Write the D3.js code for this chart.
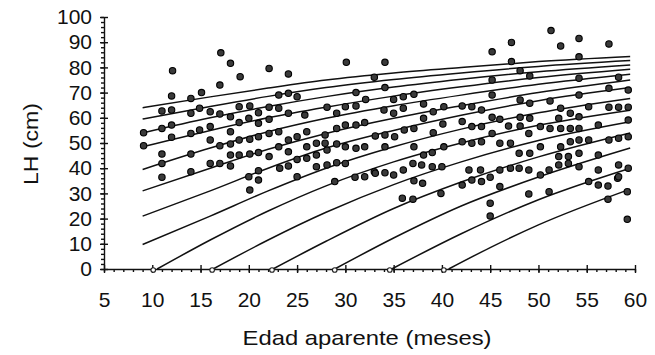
<!DOCTYPE html>
<html>
<head>
<meta charset="utf-8">
<script src="https://cdn.jsdelivr.net/npm/d3@7"></script>
<style>
  body { margin: 0; background: #fff; }
  svg text { font-family: 'Liberation Sans', Arial, sans-serif; fill: #111; }
</style>
</head>
<body>
<svg id="chart" width="655" height="355"></svg>
<script>
// axis ticks
const ageTicks = [5, 10, 15, 20, 25, 30, 35, 40, 45, 50, 55, 60];
const lhTicks = [0, 10, 20, 30, 40, 50, 60, 70, 80, 90, 100];

// growth curves, [age, LH], bottom to top
const curve1 = [[40.7, 0], [45, 8.5], [50, 17.5], [59.5, 31.7]];
const curve2 = [[34.8, 0], [42, 14], [50, 27.5], [59.5, 40]];
const curve3 = [[28.9, 0], [35, 12.3], [42, 25], [50, 36.5], [59.5, 48]];
const curve4 = [[22.5, 0], [28, 11], [35, 24], [42, 34.5], [50, 44.5], [59.5, 54]];
const curve5 = [[16.3, 0], [22, 11.5], [28, 22.5], [35, 33.5], [42, 42.5], [50, 51], [59.5, 58.4]];
const curve6 = [[10.5, 0], [16, 11.5], [22, 23], [28, 33], [35, 42.5], [42, 50], [50, 57], [59.5, 63]];
const curve7 = [[9, 9.7], [16, 21], [22, 31], [28, 40], [35, 48.5], [42, 55.5], [50, 62], [59.5, 67.7]];
const curve8 = [[9, 21], [16, 31], [22, 40], [28, 48], [35, 55], [42, 61], [50, 66.8], [59.5, 72]];
const curve9 = [[9, 31], [16, 40], [22, 47.5], [28, 53.8], [35, 59.8], [42, 64.8], [50, 70], [59.5, 75]];
const curve10 = [[9, 39.5], [16, 48], [22, 54.5], [28, 59.8], [35, 64.8], [42, 69], [50, 73.3], [59.5, 77.3]];
const curve11 = [[9, 48.5], [16, 55], [22, 60], [28, 64.2], [35, 68.6], [42, 72.3], [50, 76], [59.5, 79.3]];
const curve12 = [[9, 54], [16, 60], [22, 64.5], [28, 68.4], [35, 72.2], [42, 75.3], [50, 78.3], [59.5, 81]];
const curve13 = [[9, 59.5], [16, 64.5], [22, 68.5], [28, 72], [35, 75.2], [42, 77.8], [50, 80.4], [59.5, 82.7]];
const curve14 = [[9, 64], [16, 68.3], [22, 71.8], [28, 75], [35, 77.8], [42, 80], [50, 82.3], [59.5, 84.3]];
const curves = [curve1, curve2, curve3, curve4, curve5, curve6, curve7,
  curve8, curve9, curve10, curve11, curve12, curve13, curve14];

// observed animals, [age, LH]
const pointsYoung = [
  [12.1, 78.7], [17.1, 85.8], [18.1, 81.6], [19.1, 76.3], [17.0, 73.0], [22.1, 79.6], [24.1, 77.4],
  [12.0, 68.7], [14.0, 67.7], [15.1, 70.0], [23.1, 69.0], [24.1, 69.7], [25.0, 68.4],
  [11.0, 62.7], [12.0, 63.1], [14.0, 61.8], [14.9, 63.8], [16.0, 62.4], [17.0, 61.5], [18.1, 60.4],
  [19.0, 64.4], [20.1, 64.7], [21.0, 62.0], [22.1, 64.2], [23.1, 63.8],
  [9.1, 54.1], [11.0, 55.8], [12.0, 57.1], [14.0, 53.8], [14.9, 55.2], [16.0, 56.5], [18.1, 54.5],
  [19.0, 58.1], [20.0, 59.8], [21.0, 57.8], [22.1, 59.4], [24.1, 61.8], [25.8, 61.1],
  [9.1, 48.9], [12.0, 52.3], [16.0, 51.2], [17.0, 48.9], [18.1, 49.6], [19.0, 51.2], [20.1, 51.5],
  [21.0, 52.5], [22.1, 53.8], [23.1, 54.5], [24.1, 51.2], [25.0, 52.5], [26.0, 54.5], [28.1, 64.2],
  [11.0, 45.6], [14.0, 45.6], [16.0, 41.9], [17.0, 41.9], [18.1, 40.9], [18.1, 45.2], [19.0, 45.2],
  [20.1, 45.6], [21.0, 46.2], [22.1, 44.6], [23.1, 48.5], [24.1, 46.5], [24.1, 40.9], [25.0, 43.5],
  [26.0, 48.5], [26.0, 43.9], [27.0, 45.2], [27.0, 49.9], [28.1, 47.2],
  [11.0, 41.9], [14.0, 38.6], [20.0, 36.6], [21.0, 39.0], [23.2, 40.0], [25.0, 36.6], [27.0, 40.6],
  [28.1, 41.3], [11.0, 36.4], [21.0, 35.3], [20.1, 31.3]
];
const pointsOld = [
  [28.9, 34.7], [31.0, 36.4], [32.0, 36.6], [33.0, 38.6], [35.0, 37.3], [37.1, 35.0], [38.0, 34.0],
  [35.9, 28.1], [37.0, 27.7], [39.9, 30.0], [42.1, 33.3], [43.1, 35.3], [44.1, 34.7], [45.0, 36.4],
  [46.0, 32.7], [45.0, 26.1], [45.0, 21.0], [49.0, 29.8], [51.1, 30.7], [50.2, 37.3], [51.1, 39.3],
  [55.2, 34.7], [56.2, 33.3], [57.2, 32.9], [58.2, 36.0], [57.2, 27.7], [59.2, 30.7], [59.2, 19.7],
  [30.1, 82.0], [34.1, 82.0], [33.0, 76.1], [34.1, 72.0], [31.1, 70.0], [35.0, 67.3], [36.0, 68.4],
  [37.1, 69.3], [36.0, 63.8], [35.0, 61.8], [34.0, 63.1], [32.1, 67.3], [30.0, 64.4], [31.1, 64.7],
  [29.1, 61.8], [38.1, 65.5], [39.1, 62.4], [40.2, 64.4], [42.1, 64.7], [43.1, 64.4], [44.1, 63.1],
  [45.2, 75.0], [45.2, 86.2], [47.2, 89.9], [47.2, 82.3], [48.1, 78.7], [49.1, 76.6], [45.2, 69.0],
  [51.3, 94.6], [52.3, 88.5], [54.2, 91.5], [54.2, 84.2], [57.3, 89.3], [54.2, 75.7], [58.3, 76.1],
  [57.3, 71.7], [54.2, 69.0], [59.3, 71.0], [48.1, 67.1], [49.1, 65.8], [51.2, 66.7], [52.3, 63.8],
  [53.3, 61.8], [54.2, 60.4], [55.2, 64.4], [57.3, 64.2], [58.3, 64.2], [59.3, 64.2], [45.2, 60.2],
  [46.0, 59.4], [48.1, 60.2], [49.1, 59.8], [52.1, 59.8], [56.2, 57.1], [59.3, 59.1],
  [27.9, 53.2], [29.1, 55.8], [30.0, 57.1], [31.1, 57.1], [32.0, 58.1], [33.1, 52.8], [34.1, 53.2],
  [35.1, 52.5], [36.1, 55.2], [37.1, 55.8], [38.1, 59.8], [39.1, 54.1], [40.1, 57.5], [42.1, 58.5],
  [43.1, 56.5], [44.1, 56.5], [46.9, 56.7], [48.1, 56.7], [49.0, 53.8], [50.2, 56.5], [51.2, 55.8],
  [52.3, 55.8], [53.3, 55.8], [54.2, 55.8], [57.3, 51.2], [58.3, 51.9], [59.3, 52.5], [55.2, 51.2],
  [54.2, 51.2], [53.3, 50.5], [52.3, 48.5],
  [27.9, 49.9], [29.1, 49.6], [30.0, 48.5], [31.1, 47.9], [32.0, 48.5], [34.1, 48.5], [37.1, 48.5],
  [38.1, 45.2], [39.0, 46.2], [40.2, 48.5], [42.1, 50.5], [43.1, 49.9], [44.1, 50.5], [45.2, 53.8],
  [46.0, 49.9], [47.1, 49.9], [48.0, 45.9], [49.1, 45.9], [50.2, 48.5], [52.1, 44.6], [53.1, 44.6],
  [54.2, 45.9], [56.2, 45.2],
  [29.1, 42.2], [30.0, 41.9], [33.1, 38.0], [34.1, 38.2], [36.0, 39.3], [37.0, 41.9], [37.9, 41.3],
  [39.0, 40.6], [40.0, 40.6], [42.8, 39.3], [44.0, 39.3], [46.0, 39.3], [47.1, 40.0], [48.0, 40.0],
  [49.0, 39.3], [52.1, 41.3], [53.1, 41.9], [54.2, 40.6], [56.2, 39.3], [58.3, 41.3], [59.3, 40.0],
  [58.3, 36.6]
];
// small open marks where curves leave the axis
const pointsAtZero = [[10.1, 0], [16.2, 0], [22.4, 0], [28.9, 0], [34.6, 0], [40.2, 0]];

const svg = d3.select('#chart');

const x = d3.scaleLinear().domain([5, 60]).range([104, 635]);
const y = d3.scaleLinear().domain([0, 100]).range([269, 17]);

// minor ticks first, majors drawn over them
svg.append('g')
  .attr('transform', `translate(0,${y(0)})`)
  .call(d3.axisBottom(x).tickValues(d3.range(5, 61, 1)).tickSize(3).tickFormat(''))
  .call((g) => g.select('.domain').remove());

svg.append('g')
  .attr('transform', `translate(${x(5)},0)`)
  .call(d3.axisLeft(y).tickValues(d3.range(0, 101, 2)).tickSize(3).tickFormat(''))
  .call((g) => g.select('.domain').remove());

const xAxis = svg.append('g')
  .attr('transform', `translate(0,${y(0)})`)
  .call(d3.axisBottom(x).tickValues(ageTicks).tickSize(4).tickSizeOuter(0).tickPadding(19));
xAxis.selectAll('.tick line').attr('y1', -4);

const yAxis = svg.append('g')
  .attr('transform', `translate(${x(5)},0)`)
  .call(d3.axisLeft(y).tickValues(lhTicks).tickSize(4).tickSizeOuter(0).tickPadding(8));
yAxis.selectAll('.tick line').attr('x1', 4);

svg.selectAll('.tick text').style('font-size', '21px');
svg.selectAll('.domain, .tick line').attr('stroke', '#111').attr('stroke-width', 1.4);

// curves
const line = d3.line()
  .x((d) => x(d[0]))
  .y((d) => y(d[1]))
  .curve(d3.curveMonotoneX);

svg.append('g')
  .selectAll('path')
  .data(curves)
  .join('path')
  .attr('d', line)
  .attr('fill', 'none')
  .attr('stroke', '#111')
  .attr('stroke-width', 1.5);

// points
svg.append('g')
  .selectAll('circle')
  .data(pointsYoung.concat(pointsOld))
  .join('circle')
  .attr('cx', (d) => x(d[0]))
  .attr('cy', (d) => y(d[1]))
  .attr('r', 3.2)
  .attr('fill', '#3a3a3a')
  .attr('stroke', '#000')
  .attr('stroke-width', 1.1);

svg.append('g')
  .selectAll('circle')
  .data(pointsAtZero)
  .join('circle')
  .attr('cx', (d) => x(d[0]))
  .attr('cy', (d) => y(d[1]) + 1)
  .attr('r', 2.3)
  .attr('fill', '#fff')
  .attr('stroke', '#222')
  .attr('stroke-width', 1.1);

// titles
svg.append('text')
  .attr('x', 367)
  .attr('y', 345)
  .attr('text-anchor', 'middle')
  .attr('textLength', 249)
  .attr('lengthAdjust', 'spacingAndGlyphs')
  .style('font-size', '21px')
  .text('Edad aparente (meses)');

svg.append('text')
  .attr('transform', 'translate(38,144) rotate(-90)')
  .attr('text-anchor', 'middle')
  .attr('textLength', 82)
  .attr('lengthAdjust', 'spacingAndGlyphs')
  .style('font-size', '21px')
  .text('LH (cm)');
</script>
</body>
</html>
